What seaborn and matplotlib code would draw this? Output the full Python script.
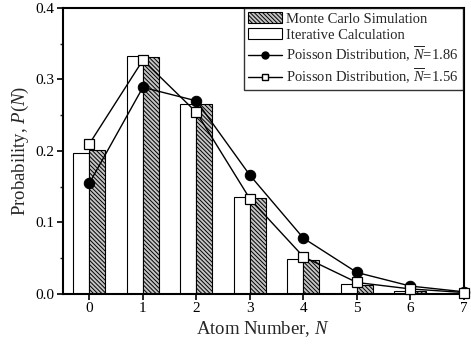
import matplotlib
matplotlib.use("Agg")
import matplotlib.pyplot as plt
from matplotlib.patches import Patch
from matplotlib.lines import Line2D
from matplotlib.ticker import MultipleLocator
import seaborn as sns
import pandas as pd

atom_number = [0, 1, 2, 3, 4, 5, 6, 7]
monte_carlo = [0.201, 0.331, 0.265, 0.134, 0.048, 0.013, 0.004, 0.001]
iterative = [0.197, 0.333, 0.265, 0.135, 0.049, 0.0135, 0.004, 0.001]
poisson_186 = [0.155, 0.289, 0.270, 0.166, 0.078, 0.030, 0.011, 0.003]
poisson_156 = [0.210, 0.327, 0.254, 0.133, 0.052, 0.016, 0.007, 0.002]

lab_mc = "Monte Carlo Simulation"
lab_it = "Iterative Calculation"
lab_p1 = r"Poisson Distribution, $\overline{N}$=1.86"
lab_p2 = r"Poisson Distribution, $\overline{N}$=1.56"

HATCH = "\\" * 8

sns.set_style("ticks")
plt.rcParams["font.family"] = ["Liberation Serif", "DejaVu Serif"]
plt.rcParams["mathtext.fontset"] = "custom"
plt.rcParams["mathtext.rm"] = "Liberation Serif"
plt.rcParams["mathtext.it"] = "Liberation Serif:italic"
plt.rcParams["hatch.linewidth"] = 0.7
plt.rcParams["hatch.color"] = "#303030"

df = pd.DataFrame({
    "N": atom_number * 2,
    "P": iterative + monte_carlo,
    "src": [lab_it] * len(atom_number) + [lab_mc] * len(atom_number),
})

fig = plt.figure(figsize=(4.71, 3.45), dpi=100)
ax = fig.add_axes([0.133, 0.148, 0.852, 0.829])

sns.barplot(data=df, x="N", y="P", hue="src", hue_order=[lab_it, lab_mc],
            palette=["white", "#b8b8b8"], width=0.6, dodge=True,
            edgecolor="black", linewidth=0.8, errorbar=None, legend=False, ax=ax, zorder=2)

n = len(atom_number)
for i, p in enumerate(ax.patches):
    if i >= n:
        p.set_hatch(HATCH)
        p.set_facecolor("#c4c4c4")

sns.lineplot(x=atom_number, y=poisson_186, color="black", lw=1.0, marker="o",
             markersize=7.5, markerfacecolor="black", markeredgecolor="black",
             ax=ax, zorder=4, clip_on=False)
sns.lineplot(x=atom_number, y=poisson_156, color="black", lw=1.0, marker="s",
             markersize=6.5, markerfacecolor="white", markeredgecolor="black",
             markeredgewidth=0.9, ax=ax, zorder=5, clip_on=False)

ax.set_xlim(-0.5, 7.0)
ax.set_ylim(0, 0.4)
ax.set_xticks(atom_number)
ax.set_xticklabels([str(v) for v in atom_number])
ax.yaxis.set_major_locator(MultipleLocator(0.1))
ax.yaxis.set_minor_locator(MultipleLocator(0.05))
ax.tick_params(axis="both", which="major", direction="out", length=4, width=1.2,
               labelsize=11, pad=2, color="black", labelcolor="black")
ax.tick_params(axis="y", which="minor", direction="out", length=2, width=1.0)
for s in ax.spines.values():
    s.set_visible(True)
    s.set_linewidth(1.5)
    s.set_color("black")

ax.set_xlabel(r"Atom Number, $N$", fontsize=13.5, labelpad=3)
ax.set_ylabel(r"Probability, $P(N)$", fontsize=13.5, labelpad=3)

handles = [
    Patch(facecolor="#c4c4c4", edgecolor="black", hatch=HATCH, linewidth=0.8),
    Patch(facecolor="white", edgecolor="black", linewidth=0.8),
    Line2D([], [], color="black", lw=1.0, marker="o", markersize=5, markerfacecolor="black"),
    Line2D([], [], color="black", lw=1.0, marker="s", markersize=4.5, markerfacecolor="white"),
]
leg = ax.legend(handles, [lab_mc, lab_it, lab_p1, lab_p2], loc="upper right",
                bbox_to_anchor=(0.997, 1.0), fontsize=10.5, frameon=True, fancybox=False,
                borderpad=0.3, labelspacing=0.2, handlelength=2.3, handletextpad=0.3,
                borderaxespad=0.0)
leg.get_frame().set_edgecolor("black")
leg.get_frame().set_linewidth(1.0)
leg.set_zorder(10)

fig.savefig("out.png", dpi=100)
